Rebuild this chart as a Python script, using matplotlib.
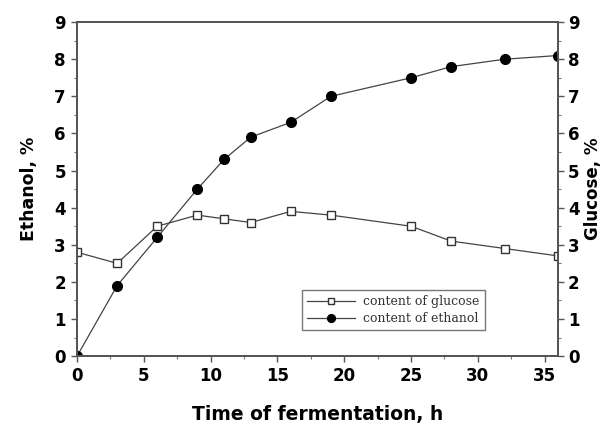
import matplotlib.pyplot as plt
from matplotlib.ticker import MultipleLocator

# fermentation time (h) and measured contents (%)
time_h = [0, 3, 6, 9, 11, 13, 16, 19, 25, 28, 32, 36]
glucose = [2.8, 2.5, 3.5, 3.8, 3.7, 3.6, 3.9, 3.8, 3.5, 3.1, 2.9, 2.7]
ethanol = [0.0, 1.9, 3.2, 4.5, 5.3, 5.9, 6.3, 7.0, 7.5, 7.8, 8.0, 8.1]

plt.rcParams['font.family'] = 'DejaVu Sans'
plt.rcParams['font.weight'] = 'bold'

fig = plt.figure(figsize=(6.02, 4.25), dpi=100)
ax = fig.add_axes([0.128, 0.162, 0.799, 0.786])

line_col = '#444444'
ax.plot(time_h, glucose, color=line_col, lw=0.9, marker='s', markersize=5.5,
        markerfacecolor='white', markeredgecolor='#333333', markeredgewidth=1.0,
        label='content of glucose')
ax.plot(time_h, ethanol, color=line_col, lw=0.9, marker='o', markersize=7,
        markerfacecolor='black', markeredgecolor='black',
        label='content of ethanol')

ax.set_xlim(0, 36)
ax.set_ylim(0, 9)
ax.xaxis.set_major_locator(MultipleLocator(5))
ax.xaxis.set_minor_locator(MultipleLocator(2.5))
ax.yaxis.set_major_locator(MultipleLocator(1))
ax.yaxis.set_minor_locator(MultipleLocator(0.5))

for sp in ax.spines.values():
    sp.set_color('#555555')
    sp.set_linewidth(1.4)

ax.tick_params(axis='both', which='major', direction='out', length=4, width=1,
               color='#555555', labelsize=12, pad=4)
ax.tick_params(axis='both', which='minor', direction='out', length=2.5, width=0.8,
               color='#777777')
ax.tick_params(top=False, right=False, which='both')

ax.set_xlabel('Time of fermentation, h', fontsize=13.5, fontweight='bold', labelpad=14)
ax.set_ylabel('Ethanol, %', fontsize=12.5, fontweight='bold', labelpad=12)

# right axis for glucose
ax2 = ax.twinx()
ax2.set_ylim(0, 9)
ax2.yaxis.set_major_locator(MultipleLocator(1))
ax2.yaxis.set_minor_locator(MultipleLocator(0.5))
ax2.tick_params(axis='y', which='major', direction='out', length=4, width=1,
                color='#555555', labelsize=12, pad=3)
ax2.tick_params(axis='y', which='minor', direction='out', length=2.5, width=0.8,
                color='#777777')
for sp in ax2.spines.values():
    sp.set_color('#555555')
    sp.set_linewidth(1.4)
ax2.set_ylabel('Glucose, %', fontsize=12, fontweight='bold', labelpad=3)

leg = ax.legend(loc='lower left', bbox_to_anchor=(0.468, 0.078), fancybox=False,
                prop={'family': 'DejaVu Serif', 'size': 9, 'weight': 'normal'},
                handlelength=3.8, borderpad=0.4, labelspacing=0.3, markerscale=0.8,
                handletextpad=0.7, borderaxespad=0)
leg.get_frame().set_edgecolor('#555555')
leg.get_frame().set_linewidth(1.0)
for t in leg.get_texts():
    t.set_color('#333333')

fig.savefig('out.png', dpi=100)
